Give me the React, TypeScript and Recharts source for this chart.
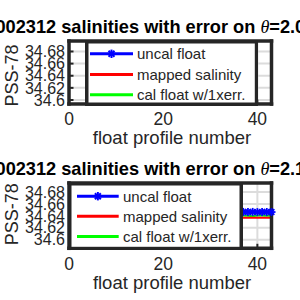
import React from 'react';
import { LineChart, Line, XAxis, YAxis, CartesianGrid, Legend } from 'recharts';

// ---------- data ----------
const FLOAT_ID = '002312';
const SERIES_NAMES = ['uncal float', 'mapped salinity', 'cal float w/1xerr.'];
const SERIES_COLORS = ['#0000ff', '#ff0000', '#00ff00'];

const X_TICKS = [0, 20, 40];
const Y_TICKS = [34.6, 34.62, 34.64, 34.66, 34.68];
const X_DOMAIN = [0, 43];

// panel 1 (theta = 2.0): no samples visible
const TOP_THETA = '2.0';
const TOP_PROFILES: number[] = [];
const TOP_UNCAL: number[] = [];
const TOP_MAPPED: number[] = [];
const TOP_CAL: number[] = [];
const TOP_Y_DOMAIN = [34.5934, 34.6973];

// panel 2 (theta = 2.1)
const BOTTOM_THETA = '2.1';
const BOTTOM_PROFILES = [36, 37, 38, 39, 40, 41, 42, 43];
const BOTTOM_UNCAL = [34.6465, 34.6466, 34.6464, 34.6466, 34.6463, 34.6466, 34.6465, 34.6464];
const BOTTOM_MAPPED = [34.6368, 34.6368, 34.6368, 34.6368, 34.6368, 34.6368, 34.6368, 34.6368];
const BOTTOM_CAL = [34.6405, 34.6405, 34.6402, 34.6392, 34.6404, 34.6405, 34.6403, 34.6404];
const BOTTOM_Y_DOMAIN = [34.5856, 34.6951];

// ---------- styling ----------
const FONT = '"Liberation Sans", Arial, Helvetica, sans-serif';
const INK = '#262626';
const GRID = '#dcdcdc';
const BOX_W = 3.5;
const TICK_LEN = 4.5;
const PLOT_LEFT = 69;
const PLOT_RIGHT = 271.5;
const PLOT_TOP = 41;
const XAXIS_H = 46;

type LegendCfg = {
  left: number; top: number; width: number; height: number;
  lineX0: number; lineX1: number; textX: number; rows: number[];
};

const buildRows = (p: number[], u: number[], m: number[], c: number[]) =>
  p.map((profile, i) => ({ profile, uncal: u[i], mapped: m[i], cal: c[i] }));

const Asterisk = ({ cx, cy, r, color, sw }: { cx: number; cy: number; r: number; color: string; sw: number }) => {
  const d = r * 0.7071;
  return (
    <g stroke={color} strokeWidth={sw}>
      <line x1={cx - r} y1={cy} x2={cx + r} y2={cy} />
      <line x1={cx} y1={cy - r} x2={cx} y2={cy + r} />
      <line x1={cx - d} y1={cy - d} x2={cx + d} y2={cy + d} />
      <line x1={cx - d} y1={cy + d} x2={cx + d} y2={cy - d} />
    </g>
  );
};

const LegendBox = ({ cfg }: { cfg: LegendCfg }) => (
  <svg width={cfg.width} height={cfg.height} style={{ display: 'block' }}>
    <rect x={BOX_W / 2} y={BOX_W / 2} width={cfg.width - BOX_W} height={cfg.height - BOX_W}
      fill="#fff" stroke={INK} strokeWidth={BOX_W} />
    {SERIES_NAMES.map((name, i) => (
      <g key={name}>
        <line x1={cfg.lineX0} x2={cfg.lineX1} y1={cfg.rows[i]} y2={cfg.rows[i]}
          stroke={SERIES_COLORS[i]} strokeWidth={3} />
        {i === 0 && (
          <Asterisk cx={(cfg.lineX0 + cfg.lineX1) / 2} cy={cfg.rows[i]} r={4.2} color={SERIES_COLORS[0]} sw={2} />
        )}
        <text x={cfg.textX} y={cfg.rows[i] + 5.5} fontSize={15} fontFamily={FONT} fill={INK}>{name}</text>
      </g>
    ))}
  </svg>
);

type PanelProps = {
  data: any[];
  yDomain: number[];
  theta: string;
  plotHeight: number;
  legend: LegendCfg;
  top: number;
  ylabelShift: number;
};

const Panel = ({ data, yDomain, theta, plotHeight, legend, top, ylabelShift }: PanelProps) => {
  const height = PLOT_TOP + plotHeight + XAXIS_H;
  const hasData = data.length > 0;
  const tickStyle = { fill: INK, fontSize: 16, fontFamily: FONT };
  const xTickStyle = { fill: INK, fontSize: 17.5, fontFamily: FONT };
  const boxLine = { stroke: INK, strokeWidth: BOX_W, strokeLinecap: 'square' as const };
  const tickLine = { stroke: INK, strokeWidth: 2 };
  return (
    <div style={{ position: 'absolute', left: 0, top }}>
      <LineChart width={300} height={height} data={data}
        margin={{ top: PLOT_TOP - 1, right: 300 - PLOT_RIGHT - 1, bottom: 0, left: 0 }}>
        <CartesianGrid stroke={GRID} strokeWidth={2} horizontal vertical xAxisId="b" yAxisId="l" />
        <XAxis xAxisId="b" dataKey="profile" type="number" domain={X_DOMAIN} ticks={X_TICKS}
          allowDataOverflow={!hasData} interval={0} height={XAXIS_H}
          axisLine={boxLine} tickLine={tickLine} tickSize={-TICK_LEN} tickMargin={13.5}
          tick={xTickStyle}
          label={() => (
            <text x={172} y={PLOT_TOP + plotHeight + 40.3} textAnchor="middle"
              fontSize={18.5} fontFamily={FONT} fill={INK}>float profile number</text>
          )}
        />
        <XAxis xAxisId="t" orientation="top" type="number" domain={X_DOMAIN} ticks={X_TICKS}
          allowDataOverflow interval={0} height={1}
          axisLine={boxLine} tickLine={tickLine} tickSize={-TICK_LEN} tick={false}
          label={() => (
            <text x={-4.5} y={33.3} fontSize={18.2} fontWeight="bold" fontFamily={FONT} fill="#000">
              {FLOAT_ID} salinities with error on{' '}
              <tspan fontFamily='"Liberation Serif", serif' fontStyle="italic" fontWeight="normal">θ</tspan>
              ={theta}
            </text>
          )}
        />
        <YAxis yAxisId="l" type="number" domain={yDomain} ticks={Y_TICKS}
          allowDataOverflow={!hasData} interval={0} width={PLOT_LEFT}
          axisLine={boxLine} tickLine={tickLine} tickSize={-TICK_LEN} tickMargin={8.5}
          tick={tickStyle} tickFormatter={(v: number) => String(v)}
          label={() => {
            const cy = PLOT_TOP + plotHeight / 2 + ylabelShift;
            return (
              <text x={18} y={cy} transform={`rotate(-90, 18, ${cy})`} textAnchor="middle"
                fontSize={18} fontFamily={FONT} fill={INK}>PSS-78</text>
            );
          }}
        />
        <YAxis yAxisId="r" orientation="right" type="number" domain={yDomain} ticks={Y_TICKS}
          allowDataOverflow interval={0} width={1}
          axisLine={boxLine} tickLine={tickLine} tickSize={-TICK_LEN} tick={false}
        />
        <Line xAxisId="b" yAxisId="l" dataKey="cal" name={SERIES_NAMES[2]} stroke={SERIES_COLORS[2]}
          strokeWidth={2} dot={false} isAnimationActive={false} />
        <Line xAxisId="b" yAxisId="l" dataKey="mapped" name={SERIES_NAMES[1]} stroke={SERIES_COLORS[1]}
          strokeWidth={1.8} dot={false} isAnimationActive={false} />
        <Line xAxisId="b" yAxisId="l" dataKey="uncal" name={SERIES_NAMES[0]} stroke={SERIES_COLORS[0]}
          strokeWidth={2.5} isAnimationActive={false}
          dot={(p: any) => (
            <Asterisk key={`d${p.index}`} cx={p.cx} cy={p.cy} r={4} color={SERIES_COLORS[0]} sw={1.8} />
          )}
        />
        <Legend layout="vertical" align="center" verticalAlign="middle"
          wrapperStyle={{ position: 'absolute', left: legend.left, top: legend.top, width: legend.width, height: legend.height, margin: 0, padding: 0 }}
          content={() => <LegendBox cfg={legend} />}
        />
      </LineChart>
    </div>
  );
};

export default function App() {
  const topData = buildRows(TOP_PROFILES, TOP_UNCAL, TOP_MAPPED, TOP_CAL);
  const bottomData = buildRows(BOTTOM_PROFILES, BOTTOM_UNCAL, BOTTOM_MAPPED, BOTTOM_CAL);
  return (
    <div style={{ position: 'absolute', left: 0, top: 0, width: 300, height: 300, background: '#fff', overflow: 'hidden' }}>
      <Panel data={topData} yDomain={TOP_Y_DOMAIN} theta={TOP_THETA} plotHeight={63} top={0} ylabelShift={3}
        legend={{ left: 85, top: 39.5, width: 173.3, height: 66, lineX0: 5, lineX1: 48, textX: 52, rows: [13.8, 34.5, 54.8] }} />
      <Panel data={bottomData} yDomain={BOTTOM_Y_DOMAIN} theta={BOTTOM_THETA} plotHeight={65.3} top={142} ylabelShift={-1.5}
        legend={{ left: 68.3, top: 39.5, width: 175, height: 68.3, lineX0: 9, lineX1: 50.7, textX: 55, rows: [14.2, 34.2, 54.5] }} />
    </div>
  );
}
